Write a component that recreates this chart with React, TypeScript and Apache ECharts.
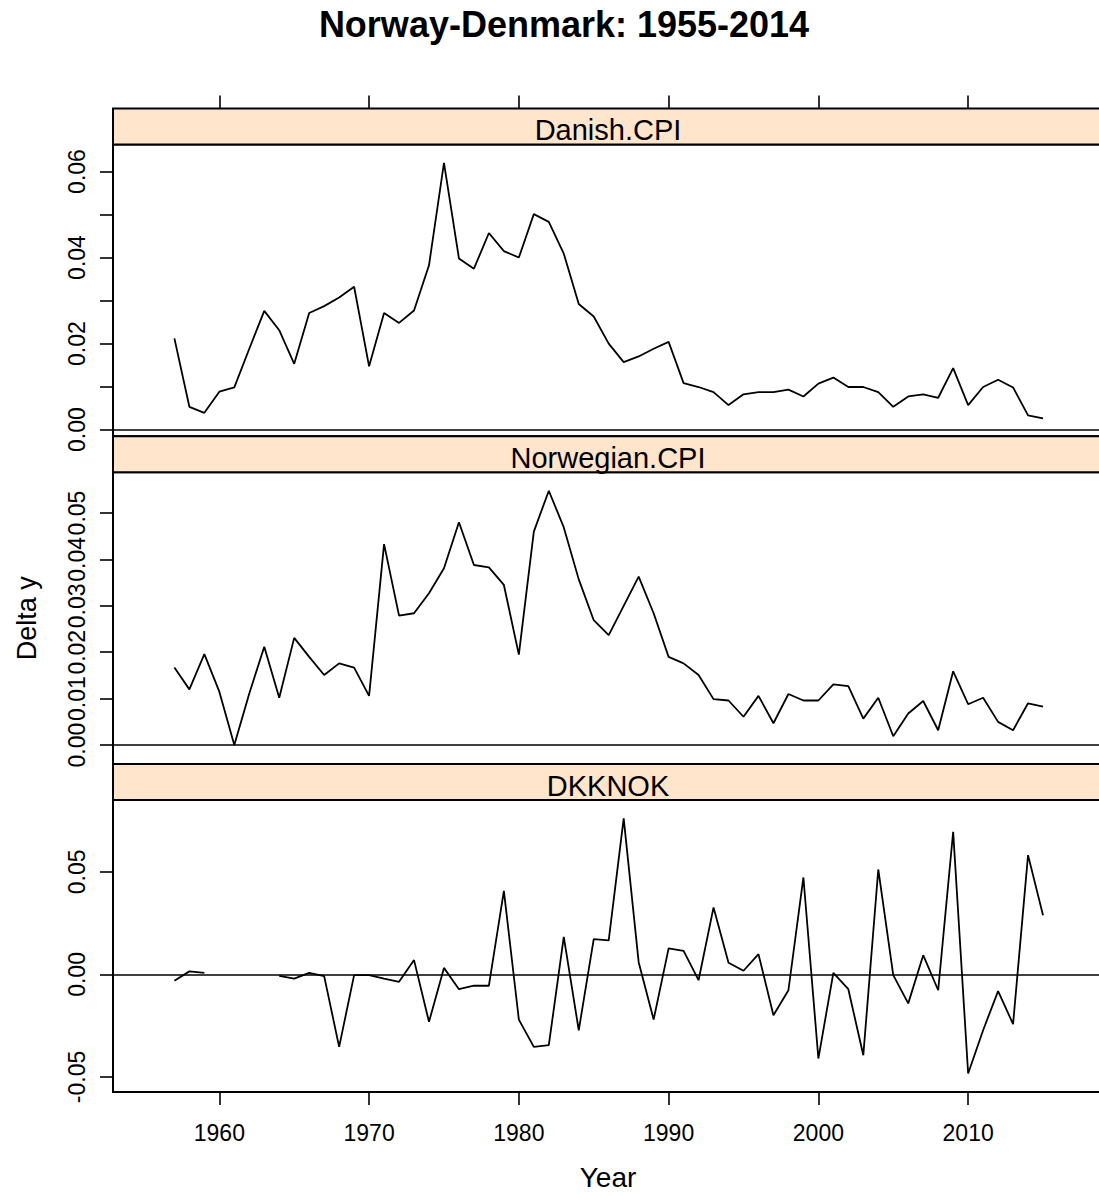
import React, { useEffect, useRef } from "react";
import * as echarts from "echarts";

// ---------- data ----------
const years = [
  1957, 1958, 1959, 1960, 1961, 1962, 1963, 1964, 1965, 1966,
  1967, 1968, 1969, 1970, 1971, 1972, 1973, 1974, 1975, 1976,
  1977, 1978, 1979, 1980, 1981, 1982, 1983, 1984, 1985, 1986,
  1987, 1988, 1989, 1990, 1991, 1992, 1993, 1994, 1995, 1996,
  1997, 1998, 1999, 2000, 2001, 2002, 2003, 2004, 2005, 2006,
  2007, 2008, 2009, 2010, 2011, 2012, 2013, 2014, 2015,
];

const danishCPI = [
  0.0212, 0.0053, 0.0039, 0.0088, 0.0098, 0.0188, 0.0276, 0.0231, 0.0153, 0.0271,
  0.0287, 0.0307, 0.0332, 0.0147, 0.0271, 0.0248, 0.0277, 0.0382, 0.062, 0.0398,
  0.0374, 0.0457, 0.0415, 0.04, 0.0501, 0.0483, 0.0409, 0.0292, 0.0263, 0.02,
  0.0157, 0.017, 0.0188, 0.0204, 0.0108, 0.0099, 0.0087, 0.0057, 0.0082, 0.0087,
  0.0087, 0.0093, 0.0077, 0.0107, 0.0121, 0.0099, 0.0099, 0.0087, 0.0053, 0.0077,
  0.0082, 0.0074, 0.0143, 0.0057, 0.0099, 0.0116, 0.0098, 0.0033, 0.0026,
];

const norwegianCPI = [
  0.0167, 0.012, 0.0196, 0.0115, 0.0, 0.0111, 0.0212, 0.0102, 0.0231, 0.019,
  0.0151, 0.0176, 0.0167, 0.0106, 0.0433, 0.0279, 0.0284, 0.0327, 0.0381, 0.048,
  0.0388, 0.0383, 0.0345, 0.0195, 0.046, 0.0548, 0.0469, 0.0357, 0.0269, 0.0237,
  0.03, 0.0363, 0.0284, 0.019, 0.0176, 0.0151, 0.0099, 0.0096, 0.0061, 0.0106,
  0.0047, 0.011, 0.0096, 0.0096, 0.0131, 0.0127, 0.0057, 0.0102, 0.0019, 0.0068,
  0.0095, 0.0032, 0.0159, 0.0088, 0.0102, 0.005, 0.0032, 0.009, 0.0083,
];

const dkknok: (number | null)[] = [
  -0.0031, 0.0015, 0.0008, null, null, null, null, -0.0007, -0.002, 0.0008,
  -0.0008, -0.0353, -0.0003, -0.0003, -0.002, -0.0036, 0.007, -0.0231, 0.0032, -0.0072,
  -0.0055, -0.0055, 0.0408, -0.022, -0.0353, -0.0345, 0.0183, -0.0272, 0.0172, 0.0166,
  0.0761, 0.006, -0.022, 0.0127, 0.0115, -0.0028, 0.0327, 0.0057, 0.0018, 0.0099,
  -0.0199, -0.0077, 0.0473, -0.041, 0.0008, -0.0072, -0.0394, 0.0512, -0.0003, -0.0141,
  0.0094, -0.0077, 0.0696, -0.0483, -0.0272, -0.0081, -0.0242, 0.0582, 0.0289,
];

const panelNames = ["Danish.CPI", "Norwegian.CPI", "DKKNOK"];
const xTicks = [1960, 1970, 1980, 1990, 2000, 2010];
const danishTicks = [0, 0.01, 0.02, 0.03, 0.04, 0.05, 0.06];
const danishLabels = [0, 0.02, 0.04, 0.06];
const norwegianTicks = [0, 0.01, 0.02, 0.03, 0.04, 0.05];
const dkknokTicks = [-0.05, 0, 0.05];
const xRange = [1952.9, 2026.35];
const yRanges = [
  [-0.00156, 0.06628],
  [-0.0041, 0.05877],
  [-0.05727, 0.08502],
];

// ---------- layout ----------
const W = 1099;
const H = 1196;
const CW = 1260; // chart canvas wider than the page: panels run past the right edge
const LEFT = 113;
const PW = 1100;
const LABEL_W = 990; // visible panel width used to centre strip labels and axis name
const STRIP = 36;
const PH = 291.8;
const TOP0 = 108.5;
const FONT = "'Liberation Sans', Arial, Helvetica, sans-serif";

export default function App() {
  const ref = useRef<HTMLDivElement>(null);

  useEffect(() => {
    if (!ref.current) return;
    const chart = echarts.init(ref.current, undefined, { renderer: "svg" });

    const seriesValues = [danishCPI, norwegianCPI, dkknok];
    const tickSets = [danishTicks, norwegianTicks, dkknokTicks];
    const labelSets = [danishLabels, norwegianTicks, dkknokTicks];
    const centerX = LEFT + LABEL_W / 2;
    const bottom = TOP0 + 3 * (STRIP + PH);

    const grids = [0, 1, 2].map((i) => ({
      left: LEFT,
      width: PW,
      top: TOP0 + STRIP + i * (STRIP + PH),
      height: PH,
      show: true,
      borderColor: "#000",
      borderWidth: 2,
      backgroundColor: "#fff",
      containLabel: false,
    }));

    const xAxes = [0, 1, 2].map((i) => ({
      type: "value",
      gridIndex: i,
      min: xRange[0],
      max: xRange[1],
      show: i !== 1,
      position: i === 0 ? "top" : "bottom",
      offset: i === 0 ? STRIP : 0,
      axisLine: { show: false, onZero: false },
      splitLine: { show: false },
      axisTick: {
        show: true,
        length: 13,
        customValues: xTicks,
        lineStyle: { color: "#000", width: 1.6 },
      },
      axisLabel: {
        show: i === 2,
        customValues: xTicks,
        margin: 30,
        fontSize: 23,
        color: "#000",
        fontFamily: FONT,
        formatter: (v: number) => String(v),
      },
      name: "",
    }));

    const yAxes = [0, 1, 2].map((i) => ({
      type: "value",
      gridIndex: i,
      min: yRanges[i][0],
      max: yRanges[i][1],
      position: "left",
      axisLine: { show: false, onZero: false },
      splitLine: { show: false },
      axisTick: {
        show: true,
        length: 13,
        customValues: tickSets[i],
        lineStyle: { color: "#000", width: 1.6 },
      },
      axisLabel: {
        show: true,
        customValues: labelSets[i],
        rotate: 90,
        margin: 25,
        fontSize: 23,
        color: "#000",
        fontFamily: FONT,
        formatter: (v: number) => v.toFixed(2),
      },
      name: i === 1 ? "Delta y" : "",
      nameLocation: "middle",
      nameRotate: 90,
      nameGap: 73,
      nameTextStyle: { fontSize: 27, color: "#000", fontFamily: FONT },
    }));

    const series = [0, 1, 2].map((i) => ({
      type: "line",
      name: panelNames[i],
      xAxisIndex: i,
      yAxisIndex: i,
      showSymbol: false,
      symbol: "none",
      connectNulls: false,
      lineStyle: { color: "#000", width: 1.8 },
      data: years.map((y, k) => {
        const v = seriesValues[i][k];
        return [y, v === null ? "-" : v];
      }),
      markLine: {
        silent: true,
        symbol: ["none", "none"],
        label: { show: false },
        lineStyle: { color: "#000", type: "solid", width: 1.6 },
        data: [{ yAxis: 0 }],
      },
    }));

    const graphics: any[] = [];
    [0, 1, 2].forEach((i) => {
      const top = TOP0 + i * (STRIP + PH);
      graphics.push({
        type: "rect",
        shape: { x: LEFT, y: top, width: PW, height: STRIP },
        style: { fill: "#FFE5CC", stroke: "#000", lineWidth: 2 },
        z: 10,
      });
      graphics.push({
        type: "text",
        x: centerX,
        y: top + STRIP / 2 + 3.5,
        style: {
          text: panelNames[i],
          fontSize: 29,
          fontFamily: FONT,
          fill: "#000",
          align: "center",
          verticalAlign: "middle",
        },
        z: 11,
      });
    });
    // x-axis title, centred under the visible panel
    graphics.push({
      type: "text",
      x: centerX,
      y: bottom + 86,
      style: {
        text: "Year",
        fontSize: 28,
        fontFamily: FONT,
        fill: "#000",
        align: "center",
        verticalAlign: "middle",
      },
    });

    chart.setOption({
      animation: false,
      backgroundColor: "#fff",
      title: {
        text: "Norway-Denmark: 1955-2014",
        left: 559,
        textAlign: "center",
        top: 1,
        textStyle: {
          fontSize: 36,
          fontWeight: "bold",
          color: "#000",
          fontFamily: FONT,
        },
      },
      grid: grids,
      xAxis: xAxes,
      yAxis: yAxes,
      series,
      graphic: graphics,
    });

    return () => chart.dispose();
  }, []);

  return (
    <div
      style={{
        position: "absolute",
        left: 0,
        top: 0,
        width: W,
        height: H,
        overflow: "hidden",
        background: "#fff",
      }}
    >
      <div ref={ref} style={{ width: CW, height: H }} />
    </div>
  );
}
